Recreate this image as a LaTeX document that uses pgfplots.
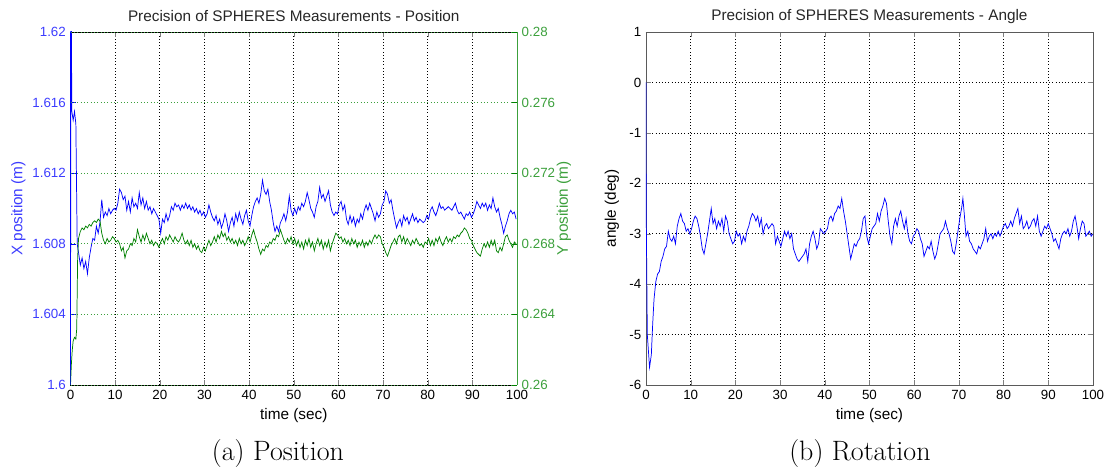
\documentclass[border=0pt]{standalone}
\usepackage{pgfplots}
\pgfplotsset{compat=1.18}
\usepackage{fontspec}
\newfontfamily\arial{Liberation Sans}

\definecolor{mblue}{RGB}{0,0,255}
\definecolor{mgreen}{RGB}{0,128,0}
\definecolor{lblue}{RGB}{60,60,255}
\definecolor{lgreen}{RGB}{60,160,60}
\definecolor{frame}{RGB}{90,90,90}

\pgfplotsset{
  mat/.style={
    scale only axis,
    width=334.9pt, height=264.75pt,
    xmin=0, xmax=100,
    xtick={0,10,...,100},
    tick align=inside,
    major tick length=4pt,
    /pgf/number format/assume math mode=true,
    tick label style={font=\arial\fontsize{10}{12}\selectfont},
    label style={font=\arial\fontsize{11.5}{13}\selectfont},
    every axis title shift=0pt,
    title style={font=\arial\fontsize{11.5}{13}\selectfont, color=black!85, at={(axis description cs:0.5,1.045)}, anchor=center},
    xlabel style={at={(axis description cs:0.5,-0.0864)}, anchor=center},
    major grid style={dotted, black, line width=0.5pt},
    every axis plot/.append style={line width=0.55pt},
  },
}

\begin{document}
\begin{tikzpicture}
\useasboundingbox (-52.875pt,-64.5pt) rectangle (780.375pt,288.75pt);

% position, X on the left axis
\begin{axis}[mat, name=pos,
  ymin=1.6, ymax=1.62,
  ytick={1.6,1.604,1.608,1.612,1.616,1.62},
  yticklabels={1.6,1.604,1.608,1.612,1.616,1.62},
  axis x line*=box, axis y line*=left,
  x axis line style={-, black},
  y axis line style={-, mblue},
  ytick style={mblue},
  yticklabel style={lblue},
  xmajorgrids,
  title={Precision of SPHERES Measurements - Position},
  xlabel={time (sec)},
  ylabel={X position (m)},
  ylabel style={lblue, at={(axis description cs:-0.1165,0.5)}, anchor=center},
]
\addplot[mblue] coordinates {
(0,1.6000)(0.1,1.6250)(0.3,1.6155)(0.6,1.6150)(0.9,1.6155)(1.2,1.6148)(1.5,1.6080)
(1.8,1.6075)(2.2,1.6068)(2.6,1.6072)(3.0,1.6066)(3.4,1.6070)(3.8,1.6063)(4.2,1.6072)(4.6,1.6078)
(5.0,1.6083)(5.4,1.6082)(5.8,1.6090)(6.2,1.6086)(6.6,1.6092)(7.0,1.6105)(7.4,1.6095)(7.8,1.6098)
(8.2,1.6096)(8.6,1.6100)(9.0,1.6097)(9.4,1.6099)(9.8,1.6100)(10.2,1.6099)(10.6,1.6103)(11.0,1.6111)
(11.4,1.6109)(11.8,1.6105)(12.2,1.6107)(12.6,1.6099)(13.0,1.6104)(13.4,1.6098)(13.8,1.6106)(14.2,1.6101)
(14.6,1.6103)(15.0,1.6100)(15.4,1.6109)(15.8,1.6102)(16.2,1.6106)(16.6,1.6100)(17.0,1.6104)(17.4,1.6099)
(17.8,1.6101)(18.2,1.6097)(18.6,1.6100)(19.0,1.6098)(19.4,1.6096)(19.8,1.6094)(20.2,1.6086)(20.6,1.6094)
(21.0,1.6092)(21.4,1.6097)(21.8,1.6093)(22.2,1.6096)(22.6,1.6101)(23.0,1.6099)(23.4,1.6103)(23.8,1.6101)
(24.2,1.6102)(24.6,1.6099)(25.0,1.6102)(25.4,1.6100)(25.8,1.6103)(26.2,1.6100)(26.6,1.6102)(27.0,1.6099)
(27.4,1.6101)(27.8,1.6098)(28.2,1.6100)(28.6,1.6097)(29.0,1.6099)(29.4,1.6096)(29.8,1.6098)(30.2,1.6095)
(30.6,1.6097)(31.0,1.6102)(31.4,1.6098)(31.8,1.6095)(32.2,1.6093)(32.6,1.6096)(33.0,1.6091)(33.4,1.6094)
(33.8,1.6089)(34.2,1.6092)(34.6,1.6097)(35.0,1.6093)(35.4,1.6087)(35.8,1.6092)(36.2,1.6095)(36.6,1.6090)
(37.0,1.6097)(37.4,1.6093)(37.8,1.6098)(38.2,1.6094)(38.6,1.6091)(39.0,1.6096)(39.4,1.6099)(39.8,1.6093)
(40.2,1.6090)(40.6,1.6096)(41.0,1.6101)(41.4,1.6104)(41.8,1.6106)(42.2,1.6103)(42.6,1.6108)(43.0,1.6116)
(43.4,1.6110)(43.8,1.6108)(44.2,1.6111)(44.6,1.6104)(45.0,1.6099)(45.4,1.6092)(45.8,1.6087)(46.2,1.6090)
(46.6,1.6087)(47.0,1.6092)(47.4,1.6094)(47.8,1.6097)(48.2,1.6093)(48.6,1.6098)(49.0,1.6107)(49.4,1.6099)
(49.8,1.6096)(50.2,1.6100)(50.6,1.6097)(51.0,1.6101)(51.4,1.6099)(51.8,1.6103)(52.2,1.6101)(52.6,1.6104)
(53.0,1.6109)(53.4,1.6105)(53.8,1.6100)(54.2,1.6098)(54.6,1.6095)(55.0,1.6101)(55.4,1.6104)(55.8,1.6112)
(56.2,1.6106)(56.6,1.6108)(57.0,1.6104)(57.4,1.6107)(57.8,1.6110)(58.2,1.6102)(58.6,1.6098)(59.0,1.6096)
(59.4,1.6098)(59.8,1.6097)(60.2,1.6102)(60.6,1.6104)(61.0,1.6099)(61.4,1.6102)(61.8,1.6094)(62.2,1.6091)
(62.6,1.6096)(63.0,1.6092)(63.4,1.6095)(63.8,1.6090)(64.2,1.6094)(64.6,1.6092)(65.0,1.6097)(65.4,1.6094)
(65.8,1.6099)(66.2,1.6102)(66.6,1.6099)(67.0,1.6103)(67.4,1.6100)(67.8,1.6097)(68.2,1.6093)(68.6,1.6098)
(69.0,1.6095)(69.4,1.6097)(69.8,1.6102)(70.2,1.6104)(70.6,1.6110)(71.0,1.6108)(71.4,1.6103)(71.8,1.6105)
(72.2,1.6099)(72.6,1.6094)(73.0,1.6089)(73.4,1.6092)(73.8,1.6094)(74.2,1.6090)(74.6,1.6096)(75.0,1.6093)
(75.4,1.6095)(75.8,1.6091)(76.2,1.6094)(76.6,1.6097)(77.0,1.6093)(77.4,1.6095)(77.8,1.6092)(78.2,1.6094)
(78.6,1.6093)(79.0,1.6092)(79.4,1.6093)(79.8,1.6096)(80.2,1.6094)(80.6,1.6099)(81.0,1.6101)(81.4,1.6098)
(81.8,1.6096)(82.2,1.6099)(82.6,1.6103)(83.0,1.6100)(83.4,1.6101)(83.8,1.6099)(84.2,1.6100)(84.6,1.6101)
(85.0,1.6100)(85.4,1.6099)(85.8,1.6101)(86.2,1.6103)(86.6,1.6099)(87.0,1.6097)(87.4,1.6098)(87.8,1.6096)
(88.2,1.6094)(88.6,1.6097)(89.0,1.6096)(89.4,1.6098)(89.8,1.6095)(90.2,1.6097)(90.6,1.6100)(91.0,1.6104)
(91.4,1.6102)(91.8,1.6100)(92.2,1.6103)(92.6,1.6101)(93.0,1.6103)(93.4,1.6099)(93.8,1.6102)(94.2,1.6100)
(94.6,1.6106)(95.0,1.6101)(95.4,1.6098)(95.8,1.6100)(96.2,1.6095)(96.6,1.6091)(97.0,1.6086)(97.4,1.6090)
(97.8,1.6093)(98.2,1.6097)(98.6,1.6099)(99.0,1.6097)(99.4,1.6098)(99.8,1.6094)
};
\end{axis}

% position, Y on the right axis
\begin{axis}[mat,
  ymin=0.26, ymax=0.28,
  ytick={0.26,0.264,0.268,0.272,0.276,0.28},
  yticklabels={0.26,0.264,0.268,0.272,0.276,0.28},
  axis x line=none, axis y line*=right,
  y axis line style={-, lgreen},
  ytick style={mgreen},
  yticklabel style={lgreen},
  ymajorgrids,
  major grid style={dotted, lgreen, line width=0.5pt},
  ylabel={Y position (m)},
  ylabel style={lgreen, at={(axis description cs:1.105,0.5)}, anchor=center},
]
\addplot[mgreen] coordinates {
(0,0.2600)(0.2,0.2612)(0.4,0.2620)(0.6,0.2625)(0.9,0.2627)(1.2,0.2626)(1.4,0.2632)(1.6,0.2672)
(1.8,0.2683)(2.2,0.2687)(2.6,0.2689)(3.0,0.2688)(3.4,0.2690)(3.8,0.2689)(4.2,0.2691)(4.6,0.2690)
(5.0,0.2692)(5.4,0.2693)(5.8,0.2692)(6.2,0.2694)(6.6,0.2693)(7.0,0.2686)(7.4,0.2682)(7.8,0.2680)
(8.2,0.2683)(8.6,0.2681)(9.0,0.2682)(9.4,0.2684)(9.8,0.2683)(10.2,0.2681)(10.6,0.2682)(11.0,0.2680)
(11.4,0.2676)(11.8,0.2678)(12.2,0.2672)(12.6,0.2676)(13.0,0.2677)(13.4,0.2680)(13.8,0.2679)(14.2,0.2683)
(14.6,0.2681)(15.0,0.2688)(15.4,0.2684)(15.8,0.2681)(16.2,0.2685)(16.6,0.2682)(17.0,0.2686)(17.4,0.2683)
(17.8,0.2680)(18.2,0.2682)(18.6,0.2679)(19.0,0.2681)(19.4,0.2680)(19.8,0.2678)(20.2,0.2681)(20.6,0.2683)
(21.0,0.2680)(21.4,0.2684)(21.8,0.2682)(22.2,0.2685)(22.6,0.2683)(23.0,0.2681)(23.4,0.2684)(23.8,0.2682)
(24.2,0.2681)(24.6,0.2683)(25.0,0.2686)(25.4,0.2682)(25.8,0.2680)(26.2,0.2682)(26.6,0.2679)(27.0,0.2682)
(27.4,0.2678)(27.8,0.2680)(28.2,0.2677)(28.6,0.2679)(29.0,0.2676)(29.4,0.2675)(29.8,0.2678)(30.2,0.2676)
(30.6,0.2679)(31.0,0.2682)(31.4,0.2679)(31.8,0.2681)(32.2,0.2684)(32.6,0.2681)(33.0,0.2685)(33.4,0.2683)
(33.8,0.2687)(34.2,0.2684)(34.6,0.2686)(35.0,0.2682)(35.4,0.2684)(35.8,0.2681)(36.2,0.2683)(36.6,0.2680)
(37.0,0.2682)(37.4,0.2679)(37.8,0.2683)(38.2,0.2680)(38.6,0.2682)(39.0,0.2679)(39.4,0.2681)(39.8,0.2684)
(40.2,0.2681)(40.6,0.2685)(41.0,0.2688)(41.4,0.2684)(41.8,0.2681)(42.2,0.2677)(42.6,0.2674)(43.0,0.2677)
(43.4,0.2676)(43.8,0.2679)(44.2,0.2678)(44.6,0.2681)(45.0,0.2680)(45.4,0.2683)(45.8,0.2682)(46.2,0.2685)
(46.6,0.2684)(47.0,0.2688)(47.4,0.2685)(47.8,0.2682)(48.2,0.2680)(48.6,0.2683)(49.0,0.2681)(49.4,0.2684)
(49.8,0.2680)(50.2,0.2683)(50.6,0.2679)(51.0,0.2682)(51.4,0.2678)(51.8,0.2681)(52.2,0.2677)(52.6,0.2682)
(53.0,0.2679)(53.4,0.2683)(53.8,0.2678)(54.2,0.2681)(54.6,0.2676)(55.0,0.2680)(55.4,0.2683)(55.8,0.2679)
(56.2,0.2682)(56.6,0.2677)(57.0,0.2681)(57.4,0.2678)(57.8,0.2682)(58.2,0.2676)(58.6,0.2680)(59.0,0.2683)
(59.4,0.2686)(59.8,0.2685)(60.2,0.2683)(60.6,0.2684)(61.0,0.2681)(61.4,0.2683)(61.8,0.2680)(62.2,0.2682)
(62.6,0.2679)(63.0,0.2683)(63.4,0.2680)(63.8,0.2682)(64.2,0.2678)(64.6,0.2681)(65.0,0.2679)(65.4,0.2682)
(65.8,0.2678)(66.2,0.2681)(66.6,0.2679)(67.0,0.2682)(67.4,0.2680)(67.8,0.2683)(68.2,0.2685)(68.6,0.2683)
(69.0,0.2685)(69.4,0.2684)(69.8,0.2680)(70.2,0.2678)(70.6,0.2675)(71.0,0.2673)(71.4,0.2676)(71.8,0.2679)
(72.2,0.2681)(72.6,0.2683)(73.0,0.2680)(73.4,0.2684)(73.8,0.2685)(74.2,0.2681)(74.6,0.2684)(75.0,0.2680)
(75.4,0.2683)(75.8,0.2681)(76.2,0.2679)(76.6,0.2682)(77.0,0.2680)(77.4,0.2683)(77.8,0.2681)(78.2,0.2679)
(78.6,0.2680)(79.0,0.2678)(79.4,0.2681)(79.8,0.2680)(80.2,0.2683)(80.6,0.2679)(81.0,0.2682)(81.4,0.2679)
(81.8,0.2683)(82.2,0.2681)(82.6,0.2684)(83.0,0.2681)(83.4,0.2679)(83.8,0.2682)(84.2,0.2684)(84.6,0.2681)
(85.0,0.2683)(85.4,0.2681)(85.8,0.2684)(86.2,0.2683)(86.6,0.2685)(87.0,0.2684)(87.4,0.2686)(87.8,0.2687)
(88.2,0.2689)(88.6,0.2688)(89.0,0.2686)(89.4,0.2683)(89.8,0.2682)(90.2,0.2679)(90.6,0.2677)(91.0,0.2675)
(91.4,0.2674)(91.8,0.2673)(92.2,0.2677)(92.6,0.2680)(93.0,0.2678)(93.4,0.2681)(93.8,0.2678)(94.2,0.2682)
(94.6,0.2679)(95.0,0.2682)(95.4,0.2676)(95.8,0.2675)(96.2,0.2678)(96.6,0.2676)(97.0,0.2680)(97.4,0.2684)
(97.8,0.2685)(98.2,0.2682)(98.6,0.2680)(99.0,0.2678)(99.4,0.2681)(99.8,0.2680)
};
\end{axis}

% angle
\begin{axis}[mat, name=ang, at={(431.6pt,0pt)}, width=335.25pt,
  ymin=-6, ymax=1,
  ytick={-6,-5,...,1},
  yticklabels={-6,-5,-4,-3,-2,-1,0,1},
  axis line style={frame},
  xmajorgrids, ymajorgrids,
  title={Precision of SPHERES Measurements - Angle},
  xlabel={time (sec)},
  ylabel={angle (deg)},
  ylabel style={at={(axis description cs:-0.076,0.5)}, anchor=center},
]
\addplot[mblue] coordinates {
(0,0)(0.05,-2.5)(0.3,-5.0)(0.8,-5.65)(1.2,-5.4)(1.5,-4.8)(1.8,-4.3)(2.2,-3.95)(2.6,-3.8)(3.0,-3.75)
(3.4,-3.55)(3.8,-3.45)(4.2,-3.3)(4.6,-3.25)(5.0,-2.95)(5.4,-3.1)(5.8,-3.15)(6.2,-3.05)(6.6,-3.2)
(7.0,-2.85)(7.4,-2.7)(7.8,-2.6)(8.2,-2.75)(8.6,-2.8)(9.0,-2.95)(9.4,-2.9)(9.8,-3.0)(10.2,-2.9)
(10.6,-2.75)(11.0,-2.65)(11.4,-2.7)(11.8,-2.85)(12.2,-3.05)(12.6,-3.3)(13.0,-3.4)(13.4,-3.2)(13.8,-3.0)
(14.2,-2.75)(14.6,-2.5)(15.0,-2.8)(15.4,-2.7)(15.8,-2.9)(16.2,-2.75)(16.6,-2.85)(17.0,-2.7)(17.4,-2.95)
(17.8,-2.65)(18.2,-2.75)(18.6,-3.0)(19.0,-3.1)(19.4,-3.2)(19.8,-3.15)(20.2,-2.95)(20.6,-3.05)(21.0,-3.0)
(21.4,-3.2)(21.8,-3.05)(22.2,-3.15)(22.6,-2.95)(23.0,-2.85)(23.4,-2.7)(23.8,-2.6)(24.2,-2.65)(24.6,-2.75)
(25.0,-2.65)(25.4,-2.85)(25.8,-2.7)(26.2,-3.0)(26.6,-2.85)(27.0,-2.8)(27.4,-2.9)(27.8,-2.85)(28.2,-2.8)
(28.6,-2.85)(29.0,-3.2)(29.4,-3.05)(29.8,-3.15)(30.2,-3.25)(30.6,-3.1)(31.0,-2.95)(31.4,-3.05)(31.8,-2.95)
(32.2,-3.1)(32.6,-3.0)(33.0,-3.3)(33.4,-3.4)(33.8,-3.5)(34.2,-3.55)(34.6,-3.5)(35.0,-3.45)(35.4,-3.4)
(35.8,-3.3)(36.2,-3.55)(36.6,-3.2)(37.0,-3.05)(37.4,-2.95)(37.8,-3.1)(38.2,-3.3)(38.6,-3.2)(39.0,-2.9)
(39.4,-2.95)(39.8,-3.0)(40.2,-2.95)(40.6,-2.9)(41.0,-2.7)(41.4,-2.65)(41.8,-2.75)(42.2,-2.6)(42.6,-2.55)
(43.0,-2.45)(43.4,-2.5)(43.8,-2.3)(44.2,-2.55)(44.6,-2.75)(45.0,-3.0)(45.4,-3.25)(45.8,-3.5)(46.2,-3.35)
(46.6,-3.2)(47.0,-3.25)(47.4,-3.15)(47.8,-3.1)(48.2,-2.95)(48.6,-2.7)(49.0,-2.65)(49.4,-3.05)(49.8,-3.2)
(50.2,-3.05)(50.6,-2.9)(51.0,-2.85)(51.4,-2.8)(51.8,-2.6)(52.2,-2.75)(52.6,-2.55)(53.0,-2.45)(53.4,-2.3)
(53.8,-2.4)(54.2,-2.75)(54.6,-3.05)(55.0,-3.2)(55.4,-2.85)(55.8,-2.7)(56.2,-2.85)(56.6,-2.65)(57.0,-2.55)
(57.4,-2.75)(57.8,-2.9)(58.2,-2.7)(58.6,-3.0)(59.0,-3.15)(59.4,-3.2)(59.8,-3.05)(60.2,-3.0)(60.6,-2.9)
(61.0,-2.95)(61.4,-3.1)(61.8,-3.2)(62.2,-3.45)(62.6,-3.35)(63.0,-3.25)(63.4,-3.3)(63.8,-3.15)(64.2,-3.35)
(64.6,-3.5)(65.0,-3.4)(65.4,-3.2)(65.8,-3.0)(66.2,-2.95)(66.6,-2.9)(67.0,-2.75)(67.4,-2.9)(67.8,-3.0)
(68.2,-3.15)(68.6,-3.35)(69.0,-3.4)(69.4,-3.2)(69.8,-2.95)(70.2,-2.7)(70.6,-2.5)(70.9,-2.3)(71.2,-2.6)
(71.6,-3.05)(72.0,-2.95)(72.4,-3.15)(72.8,-3.2)(73.2,-3.3)(73.6,-3.35)(74.0,-3.4)(74.4,-3.25)(74.8,-3.3)
(75.2,-3.2)(75.6,-3.1)(76.0,-2.9)(76.4,-3.15)(76.8,-3.05)(77.2,-3.0)(77.6,-3.1)(78.0,-3.0)(78.4,-3.05)
(78.8,-2.95)(79.2,-3.05)(79.6,-2.95)(80.0,-2.85)(80.4,-2.8)(80.8,-2.9)(81.2,-2.85)(81.6,-2.75)(82.0,-2.85)
(82.4,-2.7)(82.8,-2.6)(83.2,-2.5)(83.6,-2.8)(84.0,-2.65)(84.4,-2.9)(84.8,-2.85)(85.2,-2.75)(85.6,-2.9)
(86.0,-2.85)(86.4,-2.75)(86.8,-2.7)(87.2,-2.85)(87.6,-2.65)(88.0,-2.95)(88.4,-3.05)(88.8,-2.95)(89.2,-2.85)
(89.6,-2.9)(90.0,-2.8)(90.4,-2.9)(90.8,-3.0)(91.2,-3.15)(91.6,-3.1)(92.0,-3.2)(92.4,-3.3)(92.8,-3.1)
(93.2,-3.0)(93.6,-2.95)(94.0,-3.0)(94.4,-2.9)(94.8,-3.05)(95.2,-2.95)(95.6,-2.75)(96.0,-2.65)(96.4,-2.85)
(96.8,-3.1)(97.2,-2.9)(97.6,-2.75)(98.0,-2.8)(98.4,-3.05)(98.8,-3.0)(99.2,-2.95)(99.6,-3.05)(100,-3.0)
};
\end{axis}

\node[anchor=base, font=\fontsize{21}{25}\selectfont] at (155.6pt,-57pt) {(a) Position};
\node[anchor=base, font=\fontsize{21}{25}\selectfont] at (592.1pt,-57pt) {(b) Rotation};
\end{tikzpicture}
\end{document}
